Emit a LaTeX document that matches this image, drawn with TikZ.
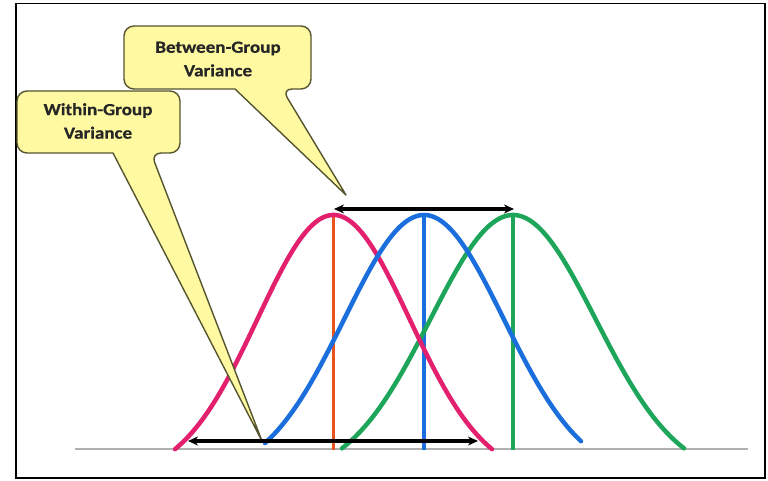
\documentclass[tikz,border=0pt]{standalone}
\usepackage{fontspec}
\newfontfamily\cfont[FakeStretch=1.12,FakeBold=0.6]{Carlito}
\usetikzlibrary{arrows.meta}
\definecolor{pinkc}{HTML}{E2206E}
\definecolor{bluec}{HTML}{1B6FDD}
\definecolor{greenc}{HTML}{1DA65A}
\definecolor{orangec}{HTML}{E8531E}
\definecolor{calfill}{HTML}{FFF9A2}
\definecolor{caledge}{HTML}{555530}
\definecolor{basec}{HTML}{B0B0B0}
\begin{document}
\begin{tikzpicture}[x=1pt,y=-1pt,
  declare function={bell(\t,\m,\s)=234*(exp(-0.5*((\t-\m)/\s)^2)-0.1142)/(1-0.1142);},
  curve/.style={line width=4.5pt,line cap=round},
  meanline/.style={line width=3.8pt},
  callout/.style={fill=calfill,draw=caledge,line width=1.4pt,line join=round},
  caltext/.style={font=\cfont\bfseries\fontsize{17}{23.5}\selectfont,text=black!85,align=center},
  dimarrow/.style={line width=3.3pt,{Stealth[length=10pt,width=9pt]}-{Stealth[length=10pt,width=9pt]}}]
\useasboundingbox (0,0) rectangle (768,481);
\fill[white] (0,0) rectangle (768,481);
\draw[line width=1.5pt] (16,3.5) rectangle (765,478);
% baseline
\coordinate (bl) at (75,449);
\coordinate (br) at (748,449);
\draw[basec,line width=2pt] (bl) -- (br);
% mean lines
\coordinate (rtop) at (333.5,215); \coordinate (rbot) at (333.5,450);
\coordinate (btop) at (424,215); \coordinate (bbot) at (424,450);
\coordinate (gtop) at (513,215); \coordinate (gbot) at (513,450);
\draw[meanline,orangec] (rtop) -- (rbot);
\draw[meanline,bluec] (btop) -- (bbot);
\draw[meanline,greenc] (gtop) -- (gbot);
% curves
\draw[curve,greenc] plot[domain=342:684,samples=120] (\x,{449-bell(\x,513,82.5)});
\draw[curve,pinkc] plot[domain=175:492,samples=120] (\x,{449-bell(\x,333.5,76)});
\draw[curve,bluec] plot[domain=265:581,samples=120] (\x,{449-bell(\x,424,79.7)});
% callout: between-group
\coordinate (btip) at (346,195);
\coordinate (wtip) at (262,441);
\draw[callout,rounded corners=10pt] (124,26) -- (311,26) -- (311,89)
  -- (282,89) [sharp corners] -- (btip) -- (235,89) [rounded corners=10pt] -- (124,89) -- cycle;
\node[caltext] (bt) at (218,59) {Between-Group\\Variance};
% callout: within-group
\draw[callout,rounded corners=10pt] (17,91) -- (180,91) -- (180,153)
  -- (151,153) [sharp corners] -- (wtip) -- (113,153) [rounded corners=10pt] -- (17,153) -- cycle;
\node[caltext] (wt) at (98,121) {Within-Group\\Variance};
% arrows
\coordinate (ta) at (334,209); \coordinate (tb) at (514,209);
\coordinate (ba) at (188,441); \coordinate (bb) at (478,441);
\draw[dimarrow] (ta) -- (tb);
\draw[dimarrow] (ba) -- (bb);
\end{tikzpicture}
\end{document}
